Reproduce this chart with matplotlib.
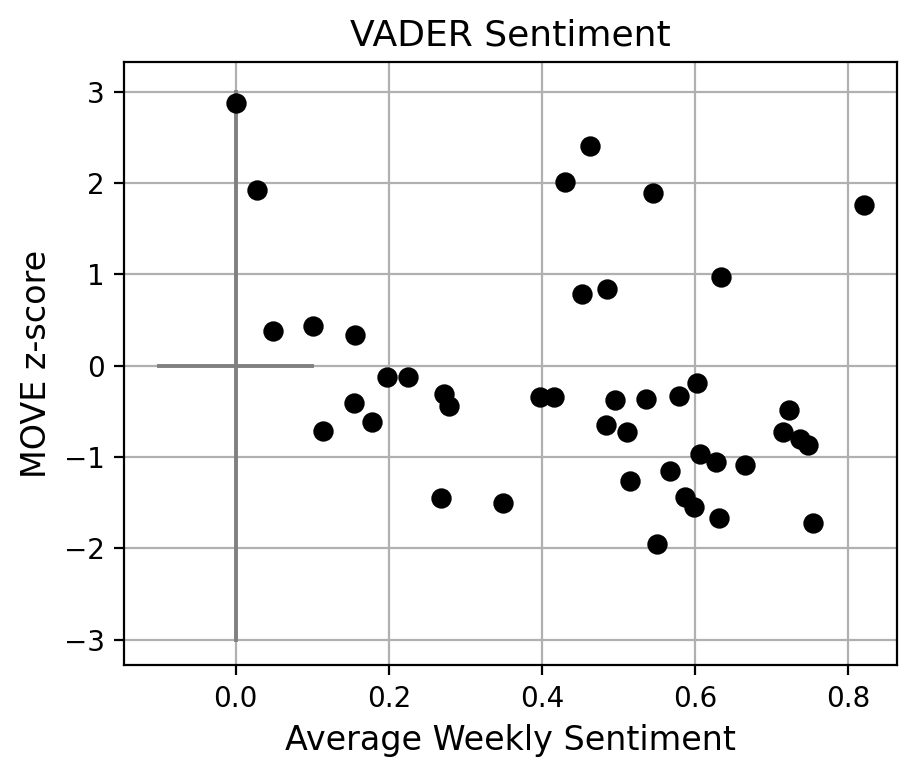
import numpy as np
from matplotlib import pyplot as plt

# average weekly sentiment vs MOVE z-score
sentiment = [0.0, 0.028, 0.049, 0.101, 0.114, 0.156, 0.155, 0.178, 0.198, 0.225,
             0.272, 0.278, 0.268, 0.349, 0.397, 0.416, 0.430, 0.463, 0.452, 0.485,
             0.484, 0.495, 0.511, 0.515, 0.536, 0.545, 0.550, 0.568, 0.579, 0.587,
             0.599, 0.603, 0.607, 0.628, 0.631, 0.634, 0.666, 0.715, 0.723, 0.737,
             0.748, 0.754, 0.821]
move_z = [2.87, 1.92, 0.38, 0.43, -0.72, 0.34, -0.405, -0.62, -0.13, -0.12,
          -0.31, -0.44, -1.45, -1.50, -0.34, -0.34, 2.01, 2.40, 0.78, 0.84,
          -0.65, -0.38, -0.73, -1.26, -0.37, 1.89, -1.95, -1.15, -0.33, -1.44,
          -1.55, -0.19, -0.965, -1.06, -1.67, 0.97, -1.09, -0.73, -0.49, -0.80,
          -0.87, -1.72, 1.76]

fig = plt.figure(figsize=(4.595, 3.895), dpi=200)
ax = fig.add_axes([0.135, 0.146, 0.841, 0.774])

# cross through the origin
ax.plot([0, 0], [-3, 3], color='gray', lw=1.4, zorder=2)
ax.plot([-0.1, 0.1], [0, 0], color='gray', lw=1.4, zorder=2)

ax.scatter(sentiment, move_z, color='black', s=40, zorder=3)

ax.set_xlim(-0.146, 0.864)
ax.set_ylim(-3.28, 3.32)
ax.set_yticks([-3, -2, -1, 0, 1, 2, 3])
ax.grid(True, zorder=0)
ax.set_axisbelow(True)
ax.set_title('VADER Sentiment', fontsize=13)
ax.set_xlabel('Average Weekly Sentiment', fontsize=12)
ax.set_ylabel('MOVE z-score', fontsize=12)

plt.savefig('out.png', dpi=200)
